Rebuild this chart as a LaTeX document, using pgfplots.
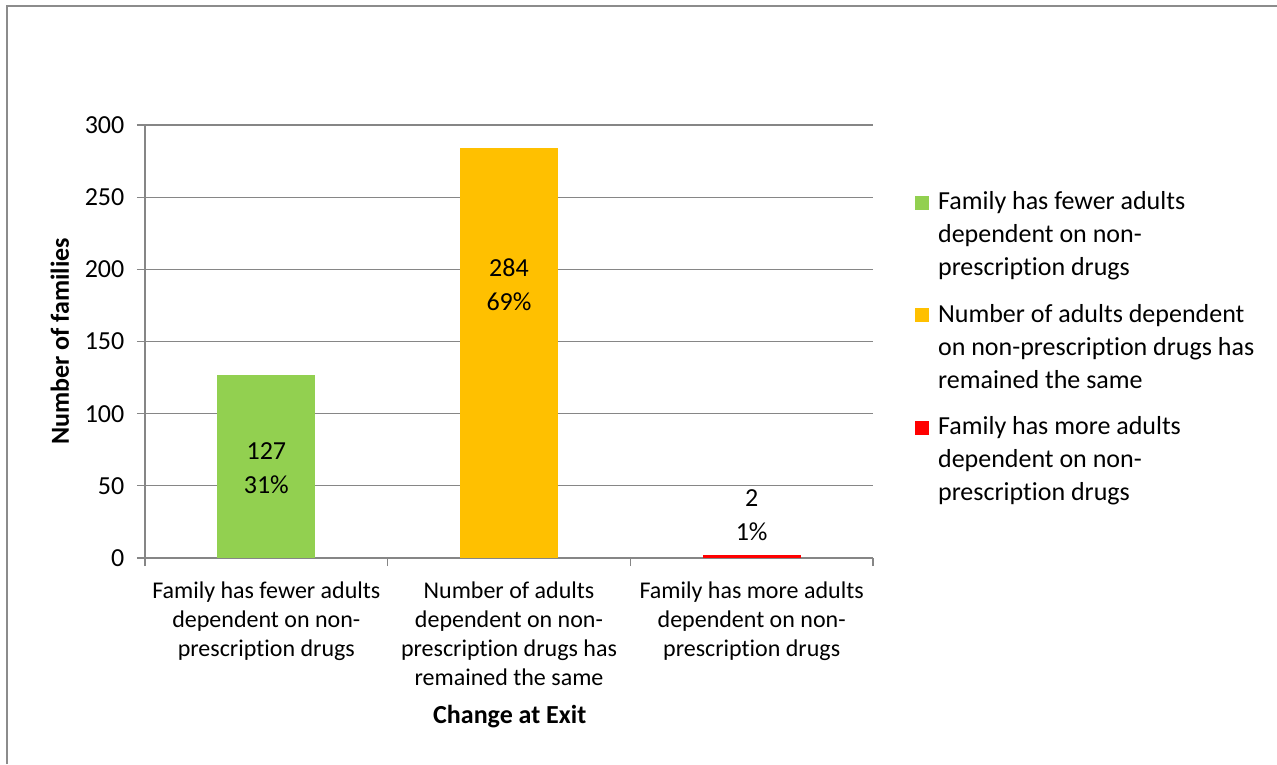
\documentclass[border=0pt]{standalone}
\usepackage{fontspec}
\setmainfont{Carlito}[Ligatures=NoCommon]
\usepackage{pgfplots}
\pgfplotsset{compat=1.18}
\definecolor{cgreen}{HTML}{92D050}
\definecolor{corange}{HTML}{FFC000}
\definecolor{cred}{HTML}{FF0000}
\definecolor{cgrid}{HTML}{868686}
\definecolor{cframe}{HTML}{8C8C8C}
\newcommand{\lentry}[1]{\begin{tabular}[t]{@{}l@{}}#1\end{tabular}}
\begin{document}
\begin{tikzpicture}
\path[use as bounding box] (0,0) rectangle (957.75pt,573pt);
\draw[cframe, line width=1.5pt] (5.25pt,0pt) -- (5.25pt,568.5pt) -- (957.75pt,568.5pt);
\begin{axis}[
  at={(108.75pt,154.5pt)}, anchor=south west,
  scale only axis, width=546pt, height=324.75pt,
  xmin=-0.5, xmax=2.5, ymin=0, ymax=300,
  ytick={0,50,...,300},
  xtick={-0.5,0.5,1.5,2.5},
  xticklabels={},
  extra x ticks={0,1,2},
  extra x tick labels={{Family has fewer adults\\dependent on non-\\prescription drugs},
               {Number of adults\\dependent on non-\\prescription drugs has\\remained the same},
               {Family has more adults\\dependent on non-\\prescription drugs}},
  extra x tick style={major tick length=0pt, grid=none,
     tick label style={font=\fontsize{18}{21.75}\selectfont, align=center, yshift=-14pt}},
  y tick label style={font=\fontsize{19.5}{23}\selectfont, xshift=-6pt},
  /pgf/number format/assume math mode=true,
  axis lines*=left,
  axis line style={cgrid, line width=0.8pt},
  ymajorgrids, grid style={cgrid, line width=0.8pt},
  major tick style={cgrid, line width=0.8pt},
  tick align=outside,
  major tick length=6pt,
  ylabel={\bfseries Number of families},
  ylabel style={font=\fontsize{19.5}{23}\selectfont, at={(axis description cs:-0.117,0.5)}, anchor=center},
  xlabel={\bfseries Change at Exit},
  xlabel style={font=\fontsize{19.5}{23}\selectfont, at={(axis description cs:0.501,-0.367)}, anchor=center},
  legend style={at={(axis description cs:1.057,0.864)}, anchor=north west, draw=none,
     font=\fontsize{19.5}{24.75}\selectfont, cells={anchor=base west},
     row sep=61.5pt, column sep=5pt, inner sep=0pt},
  legend image code/.code={\fill[#1] (0pt,0pt) rectangle (10.5pt,10.5pt);},
  bar width=0.404,
]
\addplot[ybar, bar shift=0pt, fill=cgreen, draw=none] coordinates {(0,127)};
\addlegendentry{\lentry{Family has fewer adults\\dependent on non-\\prescription drugs}}
\addplot[ybar, bar shift=0pt, fill=corange, draw=none] coordinates {(1,284)};
\addlegendentry{\lentry{Number of adults dependent\\on non-prescription drugs has\\remained the same}}
\addplot[ybar, bar shift=0pt, fill=cred, draw=none] coordinates {(2,2)};
\addlegendentry{\lentry{Family has more adults\\dependent on non-\\prescription drugs}}
\node[align=center, font=\fontsize{19.5}{25.5}\selectfont] at (axis cs:0,62) {127\\31\%};
\node[align=center, font=\fontsize{19.5}{25.5}\selectfont] at (axis cs:1,189) {284\\69\%};
\node[align=center, font=\fontsize{19.5}{25.5}\selectfont] at (axis cs:2,30) {2\\1\%};
\end{axis}
\end{tikzpicture}
\end{document}
